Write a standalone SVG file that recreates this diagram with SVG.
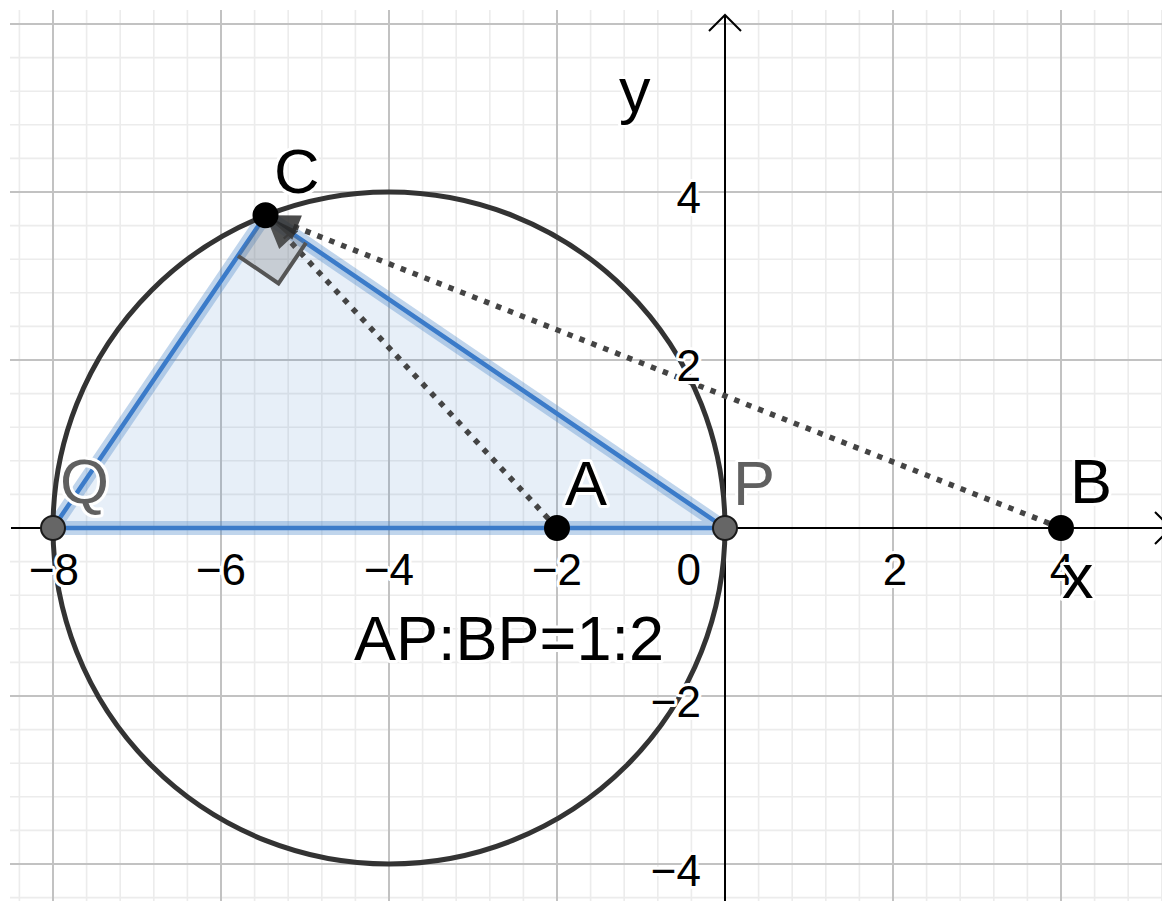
<svg xmlns="http://www.w3.org/2000/svg" width="1162" height="901" viewBox="0 0 1162 901">
<defs>
<style>
.minor{stroke:#ececec;stroke-width:1.6;fill:none}
.major{stroke:#c2c2c2;stroke-width:2;fill:none}
.axis{stroke:#000;stroke-width:2;fill:none}
.tick{font-family:"Liberation Sans",Arial,sans-serif;font-size:44px;fill:#000;stroke:#fff;stroke-width:6;stroke-linejoin:round;paint-order:stroke}
.lbl{font-family:"Liberation Sans",Arial,sans-serif;font-size:63px;fill:#000;stroke:#fff;stroke-width:6;stroke-linejoin:round;paint-order:stroke}
.gray{fill:#606060}
.dot{stroke:#444;stroke-width:5.5;stroke-dasharray:5.5 7.3;fill:none}
.head{fill:#2a2a2a;fill-opacity:0.85}
.ptb{fill:#000;stroke:#000;stroke-width:2}
.ptg{fill:#666;stroke:#1a1a1a;stroke-width:2}
</style>
</defs>
<rect width="1162" height="901" fill="#fff"/>
<g id="grid">
<path class="minor" d="M19.4 10V901M86.6 10V901M120.2 10V901M153.8 10V901M187.4 10V901M254.6 10V901M288.2 10V901M321.8 10V901M355.4 10V901M422.6 10V901M456.2 10V901M489.8 10V901M523.4 10V901M590.6 10V901M624.2 10V901M657.8 10V901M691.4 10V901M758.6 10V901M792.2 10V901M825.8 10V901M859.4 10V901M926.6 10V901M960.2 10V901M993.8 10V901M1027.4 10V901M1094.6 10V901M1128.2 10V901M1161.8 10V901
M10 57.6H1162M10 91.2H1162M10 124.8H1162M10 158.4H1162M10 225.6H1162M10 259.2H1162M10 292.8H1162M10 326.4H1162M10 393.6H1162M10 427.2H1162M10 460.8H1162M10 494.4H1162M10 561.6H1162M10 595.2H1162M10 628.8H1162M10 662.4H1162M10 729.6H1162M10 763.2H1162M10 796.8H1162M10 830.4H1162M10 897.6H1162"/>
<path class="major" d="M53 10V901M221 10V901M389 10V901M557 10V901M893 10V901M1061 10V901M10 24H1162M10 192H1162M10 360H1162M10 696H1162M10 864H1162"/>
</g>
<g id="axes">
<path class="axis" d="M11 528H1171M1155 512L1171 528L1155 544"/>
<path class="axis" d="M725 901V15M709 31L725 15L741 31"/>
</g>
<g id="triangle">
<polygon points="53,528 265.5,215.3 725,528" fill="#3d7cc9" fill-opacity="0.12" stroke="#4a86c8" stroke-opacity="0.35" stroke-width="14" stroke-linejoin="round"/>
<polygon points="53,528 265.5,215.3 725,528" fill="none" stroke="#3b7bc9" stroke-width="4.5" stroke-linejoin="round"/>
</g>
<g id="circle">
<circle cx="389" cy="528" r="336" fill="none" stroke="#333" stroke-width="5"/>
</g>
<g id="connectors">
<line class="dot" x1="557" y1="528" x2="285" y2="236"/>
<line class="dot" x1="1061" y1="528" x2="293" y2="226"/>
<polygon class="head" points="265.5,215.3 301.9,215.6 292.3,239.8"/>
<polygon class="head" points="265.5,215.3 298.2,231.3 279.2,249.1"/>
</g>
<g id="rightangle">
<polygon points="265.5,215.3 238,255.8 278.5,283.4 306,242.9" fill="#666" fill-opacity="0.25"/>
<polyline points="238,255.8 278.5,283.4 306,242.9" fill="none" stroke="#555" stroke-width="4"/>
</g>
<g id="ticks">
<text class="tick" x="54" y="585" text-anchor="middle">−8</text>
<text class="tick" x="221" y="585" text-anchor="middle">−6</text>
<text class="tick" x="389" y="585" text-anchor="middle">−4</text>
<text class="tick" x="557" y="585" text-anchor="middle">−2</text>
<text class="tick" x="701" y="585" text-anchor="end">0</text>
<text class="tick" x="895" y="585" text-anchor="middle">2</text>
<text class="tick" x="1062" y="585" text-anchor="middle">4</text>
<text class="tick" x="701" y="213" text-anchor="end">4</text>
<text class="tick" x="701" y="381" text-anchor="end">2</text>
<text class="tick" x="701" y="717" text-anchor="end">−2</text>
<text class="tick" x="701" y="886" text-anchor="end">−4</text>
</g>
<g id="point-Q">
<circle class="ptg" cx="53" cy="528" r="12"/>
<text class="lbl gray" x="60" y="503">Q</text>
</g>
<g id="point-P">
<circle class="ptg" cx="725" cy="528" r="12"/>
<text class="lbl gray" x="733" y="505">P</text>
</g>
<g id="point-A">
<circle class="ptb" cx="557" cy="528" r="12"/>
<text class="lbl" x="565" y="505">A</text>
</g>
<g id="point-B">
<circle class="ptb" cx="1061" cy="528" r="12"/>
<text class="lbl" x="1070" y="503">B</text>
</g>
<g id="point-C">
<circle class="ptb" cx="265.5" cy="215.3" r="12"/>
<text class="lbl" x="274" y="193">C</text>
</g>
<g id="labels">
<text class="lbl" x="1062" y="598">x</text>
<text class="lbl" x="619" y="112">y</text>
<text class="lbl" x="354" y="660">AP:BP=1:2</text>
</g>
</svg>
